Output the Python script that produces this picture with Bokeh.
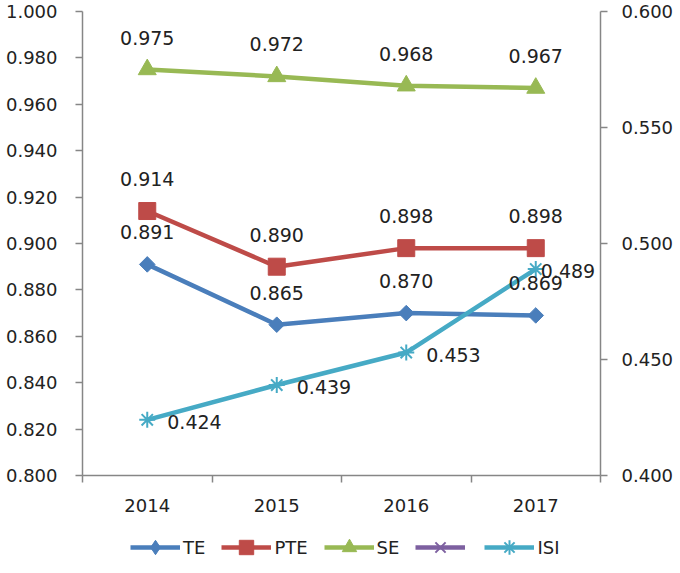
import math
from bokeh.plotting import figure
from bokeh.layouts import column
from bokeh.models import (Range1d, LinearAxis, FixedTicker, NumeralTickFormatter,
                          Legend, LegendItem, ColumnDataSource, LabelSet)
from bokeh.core.properties import value
from bokeh.embed import file_html
from bokeh.resources import INLINE

# ---- data ----
years = ["2014", "2015", "2016", "2017"]
te = [0.891, 0.865, 0.870, 0.869]
pte = [0.914, 0.890, 0.898, 0.898]
se = [0.975, 0.972, 0.968, 0.967]
fourth = [float("nan")] * 4          # legend-only series without values
isi = [0.424, 0.439, 0.453, 0.489]
left_ticks = [0.80, 0.82, 0.84, 0.86, 0.88, 0.90, 0.92, 0.94, 0.96, 0.98, 1.00]
right_ticks = [0.40, 0.45, 0.50, 0.55, 0.60]

# ---- styles ----
FONT = "DejaVu Sans"
TXT = "#222222"
AX = "#868686"
C_TE, C_PTE, C_SE, C_X, C_ISI = "#4A7EBB", "#BE4B48", "#98B954", "#7D60A0", "#46AAC5"
isi_label_dx = [20, 20, 20, 5]       # pixel offsets of the ISI value labels (keeps last inside the plot)

xpos = [i + 0.5 for i in range(len(years))]
bounds = [float(i) for i in range(len(years) + 1)]

p = figure(width=680, height=520, x_range=Range1d(0, len(years)),
           y_range=Range1d(left_ticks[0], left_ticks[-1]),
           output_backend="svg", toolbar_location=None,
           min_border_left=82, min_border_right=80, min_border_top=11, min_border_bottom=45)
p.extra_y_ranges = {"right": Range1d(right_ticks[0], right_ticks[-1])}
p.outline_line_color = None
p.xgrid.grid_line_color = None
p.ygrid.grid_line_color = None

def style_axis(ax):
    ax.axis_line_color = AX
    ax.axis_line_width = 1.5
    ax.major_tick_line_color = AX
    ax.major_tick_line_width = 1.5
    ax.major_tick_out = 7
    ax.major_tick_in = 0
    ax.minor_tick_line_color = None
    ax.major_label_text_font = FONT
    ax.major_label_text_font_size = "18px"
    ax.major_label_text_color = TXT

xa = p.xaxis[0]
style_axis(xa)
xa.ticker = FixedTicker(ticks=xpos, minor_ticks=bounds)
xa.major_label_overrides = {x: y for x, y in zip(xpos, years)}
xa.major_tick_line_color = None
xa.minor_tick_line_color = AX
xa.minor_tick_line_width = 1.5
xa.minor_tick_out = 7
xa.minor_tick_in = 0
xa.major_label_standoff = 16

ya = p.yaxis[0]
style_axis(ya)
ya.ticker = FixedTicker(ticks=left_ticks)
ya.formatter = NumeralTickFormatter(format="0.000")
ya.major_label_standoff = 18

ra = LinearAxis(y_range_name="right")
style_axis(ra)
ra.ticker = FixedTicker(ticks=right_ticks)
ra.formatter = NumeralTickFormatter(format="0.000")
ra.major_label_standoff = 14
p.add_layout(ra, "right")

def src_of(vals, **extra):
    d = dict(x=xpos, y=vals, t=["%.3f" % v for v in vals])
    d.update(extra)
    return ColumnDataSource(d)

s_te, s_pte, s_se, s_x = src_of(te), src_of(pte), src_of(se), src_of(fourth)
s_isi = src_of(isi, dx=isi_label_dx)

def draw(fig, src, color, marker, size, angle=0.0, rng="default", lw_marker=1.0):
    kw = {} if rng == "default" else dict(y_range_name=rng)
    l = fig.line("x", "y", source=src, line_color=color, line_width=4.5, **kw)
    m = fig.scatter("x", "y", source=src, marker=marker, size=size, angle=angle,
                    fill_color=color, line_color=color, line_width=lw_marker, **kw)
    return l, m

draw(p, s_te, C_TE, "square", 11, angle=math.pi / 4)
draw(p, s_pte, C_PTE, "square", 17)
draw(p, s_se, C_SE, "triangle", 18)
draw(p, s_isi, C_ISI, "asterisk", 16, rng="right", lw_marker=2)

for src in (s_te, s_pte, s_se):
    p.add_layout(LabelSet(x="x", y="y", text="t", source=src, y_offset=32,
                          text_align="center", text_baseline="middle",
                          text_font=value(FONT), text_font_size="19px", text_color=TXT))
p.add_layout(LabelSet(x="x", y="y", text="t", source=s_isi, y_range_name="right",
                      x_offset="dx", y_offset=-2, text_align="left", text_baseline="middle",
                      text_font=value(FONT), text_font_size="19px", text_color=TXT))

# ---- legend strip (same series, drawn outside its view so only the legend shows) ----
lg = figure(width=680, height=53, x_range=Range1d(100, 101), y_range=Range1d(100, 101),
            output_backend="svg", toolbar_location=None,
            x_axis_location=None, y_axis_location=None,
            min_border_left=0, min_border_right=0, min_border_top=0, min_border_bottom=0)
lg.outline_line_color = None
lg.xgrid.grid_line_color = None
lg.ygrid.grid_line_color = None
r_te = draw(lg, s_te, C_TE, "diamond", 15)
r_pte = draw(lg, s_pte, C_PTE, "square", 17)
r_se = draw(lg, s_se, C_SE, "triangle", 18)
r_x = draw(lg, s_x, C_X, "x", 14, lw_marker=2)
r_isi = draw(lg, s_isi, C_ISI, "asterisk", 16, lw_marker=2)

legend = Legend(items=[
    LegendItem(label=value("TE"), renderers=list(r_te)),
    LegendItem(label=value("PTE"), renderers=list(r_pte)),
    LegendItem(label=value("SE"), renderers=list(r_se)),
    LegendItem(label=value(""), renderers=list(r_x)),
    LegendItem(label=value("ISI"), renderers=list(r_isi)),
], orientation="horizontal", location=(48, 8))
legend.glyph_width = 50
legend.glyph_height = 36
legend.label_width = 0
legend.label_height = 36
legend.label_standoff = 3
legend.spacing = 16
legend.padding = 0
legend.margin = 0
legend.border_line_color = None
legend.background_fill_alpha = 0
legend.label_text_font = FONT
legend.label_text_font_size = "18px"
legend.label_text_color = TXT
lg.add_layout(legend, "center")

open("out.html", "w").write(file_html(column(p, lg, spacing=0), INLINE))
